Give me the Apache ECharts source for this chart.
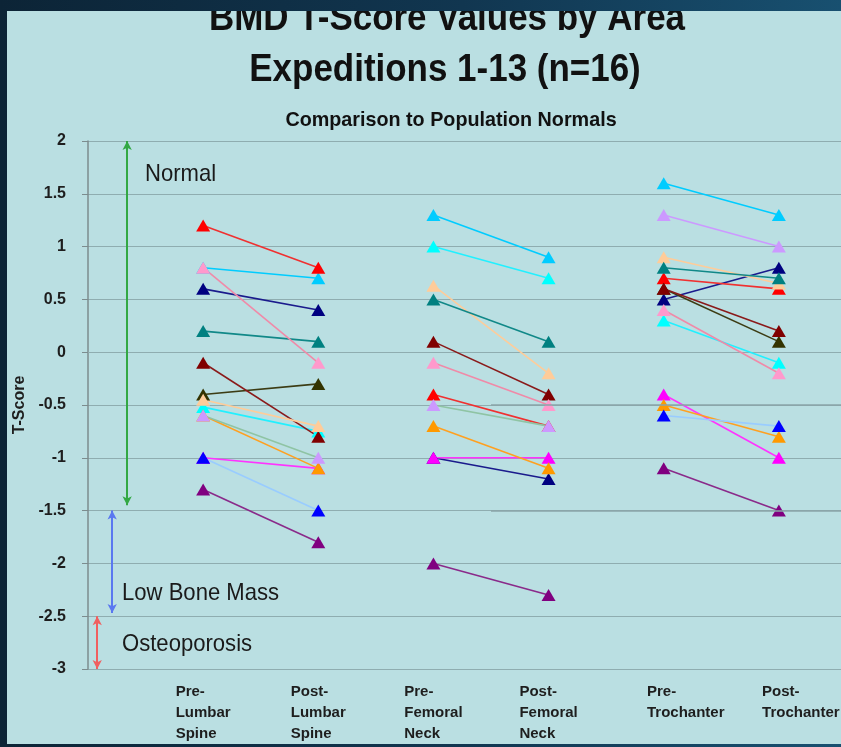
<!DOCTYPE html>
<html>
<head>
<meta charset="utf-8">
<title>BMD T-Score Values by Area</title>
<script src="https://cdn.jsdelivr.net/npm/echarts@6/dist/echarts.min.js"></script>
<style>
html, body {
    margin: 0;
    padding: 0;
    width: 841px;
    height: 747px;
    overflow: hidden;
    background: linear-gradient(90deg, #0c2436 0%, #113650 55%, #185070 100%);
}
#chart {
    position: absolute;
    left: 7px;
    top: 11px;
    width: 834px;
    height: 733px;
    background: #badfe2;
}
</style>
</head>
<body>
<div id="chart"></div>
<script>
// x labels
var categories = ['Pre-\nLumbar\nSpine', 'Post-\nLumbar\nSpine', 'Pre-\nFemoral\nNeck',
    'Post-\nFemoral\nNeck', 'Pre-\nTrochanter', 'Post-\nTrochanter'];

// one entry per subject (drawing order)
var subjects = ['skyBlue', 'cyan', 'navy', 'magenta', 'red', 'olive', 'maroon', 'peach',
    'teal', 'orange', 'blue', 'sage', 'lavender', 'pink', 'purple'];
var markerColors = ['#00ccff', '#00ffff', '#000080', '#ff00ff', '#ff0000', '#333300', '#800000', '#ffcc99',
    '#008080', '#ff9900', '#0000ff', '#cc99ff', '#cc99ff', '#ff99cc', '#800080'];
var lineColors = ['#00ccff', '#22f0ff', '#1a1a8c', '#ff33ff', '#f03030', '#3c3c14', '#8a1a1a', '#ffcc99',
    '#108888', '#ffa020', '#99ccff', '#8fc4a4', '#cc99ff', '#f08aa8', '#8a2a8a'];

// T-scores
var lumbarPre   = [0.8, -0.52, 0.6, -1.0, 1.2, -0.4, -0.1, -0.45, 0.2, -0.6, -1.0, -0.6, null, 0.8, -1.3];
var lumbarPost  = [0.7, -0.75, 0.4, -1.1, 0.8, -0.3, -0.8, -0.7, 0.1, -1.1, -1.5, -1.0, null, -0.1, -1.8];
var femoralPre  = [1.3, 1.0, -1.0, -1.0, -0.4, null, 0.1, 0.63, 0.5, -0.7, null, -0.5, null, -0.1, -2.0];
var femoralPost = [0.9, 0.7, -1.2, -1.0, -0.7, null, -0.4, -0.2, 0.1, -1.1, null, -0.7, null, -0.5, -2.3];
var trochPre    = [1.6, 0.3, 0.5, -0.4, 0.7, 0.6, 0.6, 0.9, 0.8, -0.5, -0.6, null, 1.3, 0.4, -1.1];
var trochPost   = [1.3, -0.1, 0.8, -1.0, 0.6, 0.1, 0.2, 0.65, 0.7, -0.8, -0.7, null, 1.0, -0.2, -1.5];

var areas = [[lumbarPre, lumbarPost], [femoralPre, femoralPost], [trochPre, trochPost]];

var fontFamily = '"Liberation Sans", Arial, sans-serif';

var series = [];
areas.forEach(function (pair, a) {
    subjects.forEach(function (name, s) {
        if (pair[0][s] == null || pair[1][s] == null) return;
        series.push({
            name: name,
            type: 'line',
            data: [[a * 2 + 1, pair[0][s]], [a * 2 + 2, pair[1][s]]],
            symbol: 'triangle',
            symbolSize: [14, 12],
            lineStyle: { color: lineColors[s], width: 1.6 },
            itemStyle: { color: markerColors[s] },
            silent: true
        });
    });
});

// range arrows + the two stray rule lines
series.push({
    type: 'line',
    data: [],
    silent: true,
    markLine: {
        silent: true,
        symbol: ['arrow', 'arrow'],
        symbolSize: [7, 9],
        label: { show: false },
        data: [
            [{ coord: [0.34, 2], lineStyle: { color: '#33a844', width: 2, type: 'solid' } }, { coord: [0.34, -1.45] }],
            [{ coord: [0.21, -1.5], lineStyle: { color: '#5a78f0', width: 2, type: 'solid' } }, { coord: [0.21, -2.47] }],
            [{ coord: [0.08, -2.5], lineStyle: { color: '#f06060', width: 2, type: 'solid' } }, { coord: [0.08, -3] }],
            [{ coord: [3.5, -0.5], symbol: 'none', lineStyle: { color: '#8aa5a8', width: 1.5, type: 'solid' } }, { coord: [7, -0.5], symbol: 'none' }],
            [{ coord: [3.5, -1.5], symbol: 'none', lineStyle: { color: '#8aa5a8', width: 1.5, type: 'solid' } }, { coord: [7, -1.5], symbol: 'none' }]
        ]
    }
});

var chart = echarts.init(document.getElementById('chart'));
var option = {
    animation: false,
    textStyle: { fontFamily: fontFamily },
    grid: {
        left: 81,
        right: -53,
        top: 130,
        bottom: 75,
        outerBoundsMode: 'none',
        containLabel: false
    },
    xAxis: {
        type: 'value',
        min: 0,
        max: 7,
        interval: 1,
        splitLine: { show: false },
        axisTick: { show: false },
        axisLine: { show: true, lineStyle: { color: '#8fadb0', width: 1 } },
        axisLabel: {
            margin: 12,
            verticalAlign: 'top',
            formatter: function (value) {
                var i = Math.round(value);
                if (i < 1 || i > 6) return '';
                var key = i >= 5 ? 't' : 'c';
                return categories[i - 1].split('\n').map(function (l) {
                    return '{' + key + '|' + l + '}';
                }).join('\n');
            },
            rich: {
                c: { fontSize: 15, fontWeight: 'bold', lineHeight: 21, align: 'left', color: '#1e1e1e', fontFamily: fontFamily },
                t: { fontSize: 15, fontWeight: 'bold', lineHeight: 21, align: 'left', color: '#1e1e1e', fontFamily: fontFamily, padding: [0, 0, 0, 44] }
            }
        }
    },
    yAxis: {
        type: 'value',
        min: -3,
        max: 2,
        interval: 0.5,
        name: 'T-Score',
        nameLocation: 'middle',
        nameRotate: 90,
        nameGap: 58,
        nameTextStyle: { fontSize: 16, fontWeight: 'bold', color: '#1e1e1e' },
        axisLine: { show: true, lineStyle: { color: '#7c8c8e', width: 1.5 } },
        axisTick: { show: true, length: 6, lineStyle: { color: '#7c8c8e' } },
        splitLine: { lineStyle: { color: '#8fadb0', width: 1.2 } },
        axisLabel: { margin: 22, fontSize: 16, fontWeight: 'bold', color: '#1e1e1e' }
    },
    graphic: [
        { type: 'text', x: 440, y: 9, scaleX: 0.92, silent: true,
          style: { text: 'BMD T-Score Values by Area', font: 'bold 38px ' + fontFamily, fill: '#111',
                   align: 'center', verticalAlign: 'middle', textAlign: 'center', textVerticalAlign: 'middle' } },
        { type: 'text', x: 438, y: 60, scaleX: 0.92, silent: true,
          style: { text: 'Expeditions 1-13 (n=16)', font: 'bold 38px ' + fontFamily, fill: '#111',
                   align: 'center', verticalAlign: 'middle', textAlign: 'center', textVerticalAlign: 'middle' } },
        { type: 'text', x: 444, y: 109, scaleX: 0.94, silent: true,
          style: { text: 'Comparison to Population Normals', font: 'bold 21px ' + fontFamily, fill: '#111',
                   align: 'center', verticalAlign: 'middle', textAlign: 'center', textVerticalAlign: 'middle' } },
        { type: 'text', x: 138, y: 163, scaleX: 0.92, silent: true,
          style: { text: 'Normal', font: '24px ' + fontFamily, fill: '#1a1a1a',
                   align: 'left', verticalAlign: 'middle', textAlign: 'left', textVerticalAlign: 'middle' } },
        { type: 'text', x: 115, y: 582, scaleX: 0.92, silent: true,
          style: { text: 'Low Bone Mass', font: '24px ' + fontFamily, fill: '#1a1a1a',
                   align: 'left', verticalAlign: 'middle', textAlign: 'left', textVerticalAlign: 'middle' } },
        { type: 'text', x: 115, y: 633, scaleX: 0.92, silent: true,
          style: { text: 'Osteoporosis', font: '24px ' + fontFamily, fill: '#1a1a1a',
                   align: 'left', verticalAlign: 'middle', textAlign: 'left', textVerticalAlign: 'middle' } }
    ],
    series: series
};
chart.setOption(option);
</script>
</body>
</html>
